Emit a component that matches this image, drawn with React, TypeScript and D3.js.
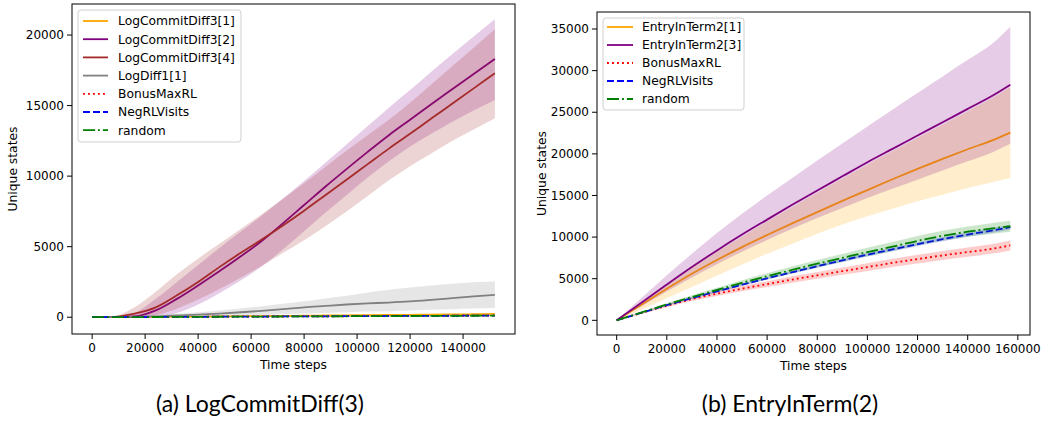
import React from 'react';
import * as d3 from 'd3';

// ---------------- Panel (a): LogCommitDiff(3) ----------------
const leftSteps = [0, 8000, 16000, 24000, 32000, 40000, 48000, 56000, 64000, 72000, 80000, 88000, 96000, 104000, 112000, 120000, 128000, 136000, 144000, 152000];

const lcdOne = [0, 5, 15, 25, 35, 45, 58, 70, 82, 95, 108, 120, 133, 146, 158, 170, 183, 196, 210, 230];
const lcdOneLo = [0, 3, 9, 16, 23, 30, 40, 50, 60, 70, 80, 90, 100, 110, 120, 130, 140, 150, 162, 180];
const lcdOneHi = [0, 8, 22, 35, 48, 60, 75, 90, 105, 120, 135, 150, 165, 180, 195, 210, 225, 240, 258, 280];

const lcdTwo = [0, 0, 50, 480, 1300, 2250, 3250, 4300, 5400, 6650, 7950, 9250, 10500, 11720, 12900, 14000, 15100, 16170, 17240, 18300];
const lcdTwoLo = [0, 0, 0, 0, 300, 900, 1700, 2600, 3600, 4800, 6100, 7400, 8650, 9900, 11050, 12100, 13000, 13850, 14650, 15400];
const lcdTwoHi = [0, 0, 300, 1300, 2500, 3700, 4900, 6050, 7200, 8400, 9650, 10950, 12250, 13550, 14850, 16100, 17400, 18650, 19900, 21120];

const lcdFour = [0, 20, 250, 700, 1550, 2500, 3550, 4550, 5500, 6500, 7550, 8650, 9750, 10850, 11950, 13000, 14080, 15150, 16220, 17290];
const lcdFourLo = [0, 0, 0, 150, 600, 1250, 2000, 2800, 3650, 4550, 5450, 6450, 7500, 8600, 9700, 10700, 11600, 12500, 13300, 14100];
const lcdFourHi = [0, 60, 700, 1800, 3050, 4150, 5200, 6250, 7300, 8400, 9500, 10650, 11800, 12900, 14000, 15200, 16500, 17800, 19100, 20410];

const logDiff = [0, 0, 20, 60, 120, 180, 260, 350, 450, 570, 700, 800, 900, 980, 1040, 1120, 1230, 1350, 1470, 1590];
const logDiffLo = [0, 0, 0, 10, 30, 50, 80, 120, 160, 210, 260, 300, 350, 400, 430, 470, 520, 570, 610, 650];
const logDiffHi = [0, 10, 60, 140, 240, 350, 480, 620, 780, 950, 1130, 1330, 1520, 1750, 1950, 2100, 2250, 2380, 2480, 2540];

const bonusA = [0, 4, 10, 16, 22, 28, 34, 40, 46, 52, 58, 64, 70, 76, 82, 88, 94, 100, 106, 112];
const bonusALo = [0, 2, 6, 11, 16, 21, 26, 31, 36, 41, 46, 51, 56, 61, 66, 71, 76, 81, 86, 91];
const bonusAHi = [0, 6, 14, 21, 28, 35, 42, 49, 56, 63, 70, 77, 84, 91, 98, 105, 112, 119, 126, 133];

const negA = [0, 4, 10, 17, 23, 29, 35, 42, 48, 54, 60, 66, 73, 79, 85, 91, 97, 103, 109, 115];
const negALo = [0, 2, 6, 12, 17, 22, 27, 33, 38, 43, 48, 53, 59, 64, 69, 74, 79, 84, 89, 94];
const negAHi = [0, 6, 14, 22, 29, 36, 43, 51, 58, 65, 72, 79, 87, 94, 101, 108, 115, 122, 129, 136];

const randA = [0, 4, 9, 15, 21, 27, 33, 39, 45, 51, 57, 63, 69, 75, 81, 87, 93, 99, 104, 110];
const randALo = [0, 2, 5, 10, 15, 20, 25, 30, 35, 40, 45, 50, 55, 60, 65, 70, 75, 80, 84, 89];
const randAHi = [0, 6, 13, 20, 27, 34, 41, 48, 55, 62, 69, 76, 83, 90, 97, 104, 111, 118, 124, 131];

const leftXTicks = [0, 20000, 40000, 60000, 80000, 100000, 120000, 140000];
const leftYTicks = [0, 5000, 10000, 15000, 20000];

// ---------------- Panel (b): EntryInTerm(2) ----------------
const rightSteps = [0, 10000, 20000, 30000, 40000, 50000, 60000, 70000, 80000, 90000, 100000, 110000, 120000, 130000, 140000, 150000, 157000];

const eitOne = [0, 1900, 3800, 5600, 7250, 8800, 10250, 11650, 13000, 14350, 15650, 16950, 18200, 19400, 20550, 21650, 22560];
const eitOneLo = [0, 1300, 2650, 4000, 5350, 6700, 8000, 9200, 10400, 11500, 12500, 13400, 14300, 15100, 15900, 16600, 17100];
const eitOneHi = [0, 2100, 4200, 6250, 8200, 10050, 11850, 13600, 15300, 17000, 18700, 20300, 21900, 23500, 25100, 26700, 28000];

const eitThree = [0, 2150, 4300, 6400, 8400, 10300, 12100, 13880, 15600, 17300, 19000, 20600, 22200, 23800, 25400, 27000, 28300];
const eitThreeLo = [0, 1700, 3450, 5150, 6750, 8250, 9650, 11000, 12300, 13500, 14700, 15800, 16900, 18000, 19100, 20200, 21200];
const eitThreeHi = [0, 2700, 5400, 8000, 10500, 12800, 15000, 17100, 19200, 21250, 23300, 25300, 27300, 29300, 31300, 33300, 35280];

const bonusB = [0, 900, 1750, 2550, 3200, 3800, 4350, 4900, 5400, 5900, 6400, 6900, 7350, 7800, 8200, 8600, 9000];
const bonusBLo = [0, 800, 1580, 2320, 2920, 3480, 4000, 4520, 5000, 5460, 5930, 6400, 6830, 7260, 7640, 8020, 8400];
const bonusBHi = [0, 1000, 1920, 2780, 3480, 4120, 4700, 5280, 5800, 6340, 6870, 7400, 7870, 8340, 8760, 9180, 9600];

const negB = [0, 920, 1820, 2680, 3480, 4280, 5050, 5780, 6500, 7200, 7880, 8520, 9150, 9750, 10300, 10800, 11200];
const negBLo = [0, 880, 1750, 2590, 3370, 4150, 4900, 5620, 6320, 7000, 7660, 8290, 8910, 9490, 10030, 10520, 10910];
const negBHi = [0, 960, 1890, 2770, 3590, 4410, 5200, 5940, 6680, 7400, 8100, 8750, 9390, 10010, 10570, 11080, 11490];

const randB = [0, 950, 1900, 2800, 3650, 4500, 5300, 6050, 6800, 7500, 8200, 8850, 9550, 10150, 10650, 11050, 11300];
const randBLo = [0, 860, 1740, 2580, 3380, 4180, 4930, 5640, 6350, 7020, 7690, 8300, 8980, 9550, 10030, 10410, 10640];
const randBHi = [0, 1040, 2060, 3020, 3920, 4820, 5670, 6460, 7250, 7980, 8710, 9400, 10120, 10750, 11270, 11690, 11960];

const rightXTicks = [0, 20000, 40000, 60000, 80000, 100000, 120000, 140000, 160000];
const rightYTicks = [0, 5000, 10000, 15000, 20000, 25000, 30000, 35000];

// ---------------- Drawing ----------------
const FONT = 'DejaVu Sans';
const CAPTION_FONT = 'Lato';
const LW = 1.8;
const DASH: Record<string, string | undefined> = {
  solid: undefined,
  dotted: '1.9 3.1',
  dashed: '7 3',
  dashdot: '12 3 1.9 3',
};

type Series = {
  name: string;
  color: string;
  style: string;
  mean: number[];
  lo: number[];
  hi: number[];
};

type PanelProps = {
  steps: number[];
  series: Series[];
  xDomain: [number, number];
  yDomain: [number, number];
  frame: { x0: number; x1: number; y0: number; y1: number };
  xTicks: number[];
  yTicks: number[];
  legend: { x: number; y: number; w: number; h: number; rowY0: number; rowGap: number; lineX0: number; lineX1: number; textX: number };
  yLabelX: number;
  caption: string;
  captionX: number;
};

function Panel(p: PanelProps) {
  const { frame } = p;
  const x = d3.scaleLinear().domain(p.xDomain).range([frame.x0, frame.x1]);
  const y = d3.scaleLinear().domain(p.yDomain).range([frame.y1, frame.y0]);
  const idx = p.steps.map((_, i) => i);
  const lineGen = (arr: number[]) =>
    d3.line<number>().curve(d3.curveMonotoneX).x((i) => x(p.steps[i])).y((i) => y(arr[i]))(idx) || '';
  const areaGen = (lo: number[], hi: number[]) =>
    d3.area<number>().curve(d3.curveMonotoneX).x((i) => x(p.steps[i])).y0((i) => y(lo[i])).y1((i) => y(hi[i]))(idx) || '';
  const L = p.legend;
  const xMid = (frame.x0 + frame.x1) / 2;
  const yMid = (frame.y0 + frame.y1) / 2;
  const txt = { fontFamily: FONT };
  return (
    <g>
      {p.series.map((s) => (
        <g key={s.name}>
          <path d={areaGen(s.lo, s.hi)} fill={s.color} fillOpacity={0.2} stroke="none" />
          <path
            d={lineGen(s.mean)}
            fill="none"
            stroke={s.color}
            strokeWidth={LW}
            strokeDasharray={DASH[s.style]}
            strokeLinecap="butt"
          />
        </g>
      ))}
      <rect x={frame.x0} y={frame.y0} width={frame.x1 - frame.x0} height={frame.y1 - frame.y0} fill="none" stroke="#000" strokeWidth={1} />
      {p.xTicks.map((t) => (
        <g key={'x' + t}>
          <line x1={x(t)} x2={x(t)} y1={frame.y1} y2={frame.y1 + 5} stroke="#000" strokeWidth={1} />
          <text x={x(t)} y={frame.y1 + 18} fontSize={12} style={txt} textAnchor="middle" fill="#000">
            {t}
          </text>
        </g>
      ))}
      {p.yTicks.map((t) => (
        <g key={'y' + t}>
          <line x1={frame.x0 - 5} x2={frame.x0} y1={y(t)} y2={y(t)} stroke="#000" strokeWidth={1} />
          <text x={frame.x0 - 8} y={y(t)} dy="0.35em" fontSize={12} style={txt} textAnchor="end" fill="#000">
            {t}
          </text>
        </g>
      ))}
      <text x={xMid} y={frame.y1 + 35} fontSize={12.3} style={txt} textAnchor="middle" fill="#000">
        Time steps
      </text>
      <text
        transform={`translate(${p.yLabelX},${yMid}) rotate(-90)`}
        fontSize={12.3}
        style={txt}
        textAnchor="middle"
        dy="0.35em"
        fill="#000"
      >
        Unique states
      </text>
      <rect x={L.x} y={L.y} width={L.w} height={L.h} rx={3} fill="#fff" fillOpacity={0.8} stroke="#d0d0d0" strokeWidth={1} />
      {p.series.map((s, i) => {
        const ry = L.rowY0 + i * L.rowGap;
        return (
          <g key={'lg' + s.name}>
            <line x1={L.lineX0} x2={L.lineX1} y1={ry} y2={ry} stroke={s.color} strokeWidth={LW} strokeDasharray={DASH[s.style]} />
            <text x={L.textX} y={ry} dy="0.35em" fontSize={12.3} style={txt} fill="#000">
              {s.name}
            </text>
          </g>
        );
      })}
      <text x={p.captionX} y={412} fontSize={23} style={{ fontFamily: CAPTION_FONT }} textAnchor="middle" fill="#000">
        {p.caption}
      </text>
    </g>
  );
}

export default function App() {
  const leftSeries: Series[] = [
    { name: 'LogCommitDiff3[1]', color: '#FFA500', style: 'solid', mean: lcdOne, lo: lcdOneLo, hi: lcdOneHi },
    { name: 'LogCommitDiff3[2]', color: '#800080', style: 'solid', mean: lcdTwo, lo: lcdTwoLo, hi: lcdTwoHi },
    { name: 'LogCommitDiff3[4]', color: '#A52A2A', style: 'solid', mean: lcdFour, lo: lcdFourLo, hi: lcdFourHi },
    { name: 'LogDiff1[1]', color: '#808080', style: 'solid', mean: logDiff, lo: logDiffLo, hi: logDiffHi },
    { name: 'BonusMaxRL', color: '#FF0000', style: 'dotted', mean: bonusA, lo: bonusALo, hi: bonusAHi },
    { name: 'NegRLVisits', color: '#0000FF', style: 'dashed', mean: negA, lo: negALo, hi: negAHi },
    { name: 'random', color: '#008000', style: 'dashdot', mean: randA, lo: randALo, hi: randAHi },
  ];
  const rightSeries: Series[] = [
    { name: 'EntryInTerm2[1]', color: '#FFA500', style: 'solid', mean: eitOne, lo: eitOneLo, hi: eitOneHi },
    { name: 'EntryInTerm2[3]', color: '#800080', style: 'solid', mean: eitThree, lo: eitThreeLo, hi: eitThreeHi },
    { name: 'BonusMaxRL', color: '#FF0000', style: 'dotted', mean: bonusB, lo: bonusBLo, hi: bonusBHi },
    { name: 'NegRLVisits', color: '#0000FF', style: 'dashed', mean: negB, lo: negBLo, hi: negBHi },
    { name: 'random', color: '#008000', style: 'dashdot', mean: randB, lo: randBLo, hi: randBHi },
  ];
  return (
    <svg
      width={1052}
      height={427}
      viewBox="0 0 1052 427"
      style={{ position: 'absolute', left: 0, top: 0, background: '#fff' }}
    >
      <rect x={0} y={0} width={1052} height={427} fill="#fff" />
      <Panel
        steps={leftSteps}
        series={leftSeries}
        xDomain={[-7600, 159600]}
        yDomain={[-1190, 22200]}
        frame={{ x0: 72, x1: 515, y0: 4, y1: 334 }}
        xTicks={leftXTicks}
        yTicks={leftYTicks}
        legend={{ x: 78, y: 10, w: 163, h: 132, rowY0: 21, rowGap: 18.2, lineX0: 83, lineX1: 108, textX: 118 }}
        yLabelX={13}
        caption="(a) LogCommitDiff(3)"
        captionX={260}
      />
      <Panel
        steps={rightSteps}
        series={rightSeries}
        xDomain={[-7850, 164850]}
        yDomain={[-1764, 37044]}
        frame={{ x0: 597, x1: 1030, y0: 12, y1: 335 }}
        xTicks={rightXTicks}
        yTicks={rightYTicks}
        legend={{ x: 603, y: 18, w: 141, h: 92, rowY0: 27, rowGap: 18, lineX0: 607, lineX1: 633, textX: 642 }}
        yLabelX={542}
        caption="(b) EntryInTerm(2)"
        captionX={790}
      />
    </svg>
  );
}
